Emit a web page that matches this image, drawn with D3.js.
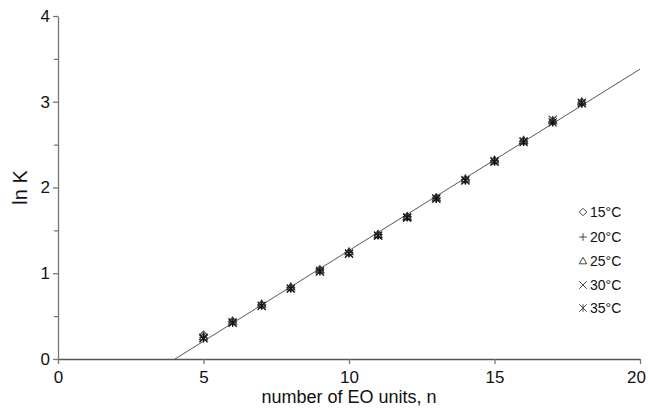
<!DOCTYPE html>
<html>
<head>
<meta charset="utf-8">
<script src="https://cdn.jsdelivr.net/npm/d3@7"></script>
<style>
  body { margin: 0; background: #fff; }
  svg { font-family: "Liberation Sans", Arial, sans-serif; }
</style>
</head>
<body>
<svg></svg>
<script>
width = 648;
height = 410;

// data
let nUnits = [5, 6, 7, 8, 9, 10, 11, 12, 13, 14, 15, 16, 17, 18];
let lnK15 = [0.28, 0.44, 0.63, 0.83, 1.04, 1.24, 1.45, 1.66, 1.88, 2.09, 2.31, 2.54, 2.77, 2.99];
let lnK20 = [0.25, 0.43, 0.63, 0.83, 1.03, 1.24, 1.45, 1.66, 1.87, 2.09, 2.31, 2.54, 2.76, 2.98];
let lnK25 = [0.26, 0.44, 0.64, 0.84, 1.04, 1.25, 1.45, 1.66, 1.88, 2.10, 2.32, 2.55, 2.78, 3.00];
let lnK30 = [0.25, 0.43, 0.62, 0.82, 1.03, 1.23, 1.44, 1.65, 1.87, 2.09, 2.31, 2.54, 2.79, 2.99];
let lnK35 = [0.24, 0.42, 0.62, 0.82, 1.02, 1.23, 1.44, 1.65, 1.87, 2.08, 2.30, 2.53, 2.76, 2.98];
let temps = ["15°C", "20°C", "25°C", "30°C", "35°C"];
let fitN = [4.02, 20];
let fitLnK = [0, 3.38];
let xTicks = [0, 5, 10, 15, 20];
let yTicks = [0, 1, 2, 3, 4];
let yMinor = [0.5, 1.5, 2.5, 3.5];

let series = [lnK15, lnK20, lnK25, lnK30, lnK35];

let svg = d3.select("svg").attr("width", width).attr("height", height);

let x = d3.scaleLinear().domain([0, 20]).range([58, 640]);
let y = d3.scaleLinear().domain([0, 4]).range([359, 16]);

let axisColor = "#777";

// axes
let xAxis = svg.append("g")
    .attr("transform", "translate(0," + y(0) + ")")
    .call(d3.axisBottom(x).tickValues(xTicks).tickSize(5).tickSizeOuter(0).tickFormat(d3.format("d")));
let yAxis = svg.append("g")
    .attr("transform", "translate(" + x(0) + ",0)")
    .call(d3.axisLeft(y).tickValues(yTicks).tickSize(5).tickSizeOuter(0).tickFormat(d3.format("d")));
svg.append("g")
    .attr("transform", "translate(" + x(0) + ",0)")
    .call(d3.axisLeft(y).tickValues(yMinor).tickSize(4).tickSizeOuter(0).tickFormat(""))
    .select(".domain").remove();

svg.selectAll(".domain, .tick line").attr("stroke", axisColor).attr("stroke-width", 1.3);
xAxis.selectAll("text").attr("font-size", 17).attr("fill", "#111").attr("dy", "0.95em")
    .attr("dx", d => d == 20 ? -4 : 0);
yAxis.selectAll("text").attr("font-size", 17).attr("fill", "#111").attr("x", -8);
xAxis.select(".domain").attr("stroke", "#555");

// axis titles
svg.append("text")
    .attr("x", x(10))
    .attr("y", 403)
    .attr("text-anchor", "middle")
    .attr("font-size", 18)
    .attr("fill", "#111")
    .text("number of EO units, n");

svg.append("text")
    .attr("transform", "translate(27," + y(2) + ") rotate(-90)")
    .attr("text-anchor", "middle")
    .attr("font-size", 20)
    .attr("fill", "#111")
    .text("ln K");

// fit line
let line = d3.line().x(d => x(d[0])).y(d => y(d[1]));
svg.append("path")
    .attr("d", line(d3.zip(fitN, fitLnK)))
    .attr("fill", "none")
    .attr("stroke", "#444")
    .attr("stroke-width", 0.9);

// marker shapes, r = half width
let diamond = {draw: function(c, s) { let r = Math.sqrt(s) / 2; c.moveTo(0, -r); c.lineTo(r, 0); c.lineTo(0, r); c.lineTo(-r, 0); c.closePath(); }};
let plus = {draw: function(c, s) { let r = Math.sqrt(s) / 2; c.moveTo(-r, 0); c.lineTo(r, 0); c.moveTo(0, -r); c.lineTo(0, r); }};
let tri = {draw: function(c, s) { let r = Math.sqrt(s) / 2; c.moveTo(0, -r); c.lineTo(r, r * 0.75); c.lineTo(-r, r * 0.75); c.closePath(); }};
let cross = {draw: function(c, s) { let r = Math.sqrt(s) / 2; c.moveTo(-r, -r); c.lineTo(r, r); c.moveTo(r, -r); c.lineTo(-r, r); }};
let star = {draw: function(c, s) { let r = Math.sqrt(s) / 2; c.moveTo(-r, -r); c.lineTo(r, r); c.moveTo(r, -r); c.lineTo(-r, r); c.moveTo(0, -r); c.lineTo(0, r); }};
let shapes = [diamond, plus, tri, cross, star];
let strokes = ["#555", "#111", "#333", "#444", "#111"];

series.forEach(function(vals, i) {
    svg.append("g")
        .selectAll("path")
        .data(d3.zip(nUnits, vals))
        .join("path")
        .attr("transform", d => "translate(" + x(d[0]) + "," + y(d[1]) + ")")
        .attr("d", d3.symbol().type(shapes[i]).size(64))
        .attr("fill", "none")
        .attr("stroke", strokes[i])
        .attr("stroke-width", 1.1);
});

// legend
let legendY = [212, 237, 261, 285, 308];
let legend = svg.append("g");
temps.forEach(function(t, i) {
    legend.append("path")
        .attr("transform", "translate(583," + legendY[i] + ")")
        .attr("d", d3.symbol().type(shapes[i]).size(56))
        .attr("fill", "none")
        .attr("stroke", "#444")
        .attr("stroke-width", 1);
    legend.append("text")
        .attr("x", 590)
        .attr("y", legendY[i])
        .attr("dy", "0.35em")
        .attr("font-size", 14)
        .attr("fill", "#111")
        .text(t);
});
</script>
</body>
</html>
